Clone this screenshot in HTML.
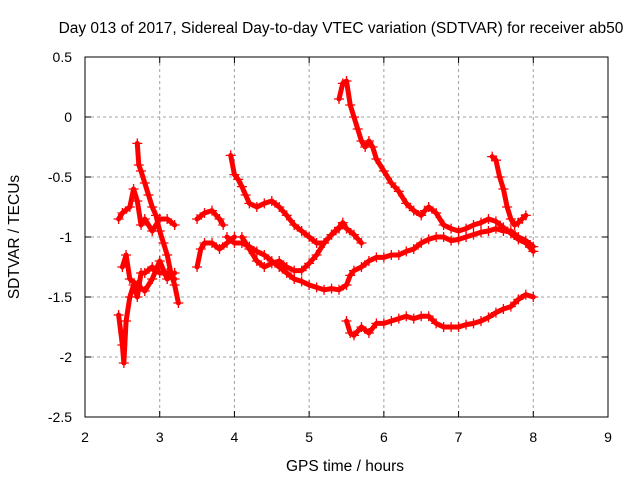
<!DOCTYPE html>
<html><head><meta charset="utf-8"><style>
body{margin:0;background:#fff;}
svg{display:block;font-family:"Liberation Sans",sans-serif;}
</style></head><body>
<svg id="chart" width="640" height="480" viewBox="0 0 640 480" xmlns="http://www.w3.org/2000/svg">
<text x="341" y="33" font-size="15.5" text-anchor="middle">Day 013 of 2017, Sidereal Day-to-day VTEC variation (SDTVAR) for receiver ab50</text>
<text transform="translate(19,237) rotate(-90)" font-size="15.5" text-anchor="middle">SDTVAR / TECUs</text>
<text x="345" y="471" font-size="15.5" text-anchor="middle">GPS time / hours</text>
<g id="grid"></g>
<g id="marks"></g>
<rect x="85" y="57" width="523" height="360" fill="none" stroke="#000" stroke-width="1"/>
</svg>
<script>
const xTicks=[2,3,4,5,6,7,8,9];
const yTicks=[0.5,0,-0.5,-1,-1.5,-2,-2.5];
const track1=[[5.4,0.15],[5.45,0.28],[5.5,0.3],[5.55,0.1],[5.6,0.0],[5.65,-0.1],[5.7,-0.2],[5.75,-0.25],[5.8,-0.2],[5.85,-0.25],[5.9,-0.35],[6.0,-0.45],[6.1,-0.55],[6.2,-0.62],[6.3,-0.72],[6.4,-0.78],[6.5,-0.82],[6.55,-0.78],[6.6,-0.75],[6.7,-0.8],[6.8,-0.9],[6.9,-0.93],[7.0,-0.95],[7.1,-0.93],[7.2,-0.9],[7.3,-0.88],[7.4,-0.85],[7.5,-0.87],[7.6,-0.92],[7.7,-0.97],[7.8,-1.02],[7.9,-1.05],[8.0,-1.12]];
const track2=[[7.45,-0.33],[7.5,-0.36],[7.55,-0.5],[7.6,-0.6],[7.65,-0.75],[7.7,-0.85],[7.75,-0.9],[7.8,-0.88],[7.85,-0.85],[7.9,-0.82]];
const track3=[[5.5,-1.7],[5.55,-1.8],[5.6,-1.82],[5.7,-1.75],[5.8,-1.8],[5.9,-1.72],[6.0,-1.72],[6.1,-1.7],[6.2,-1.68],[6.3,-1.66],[6.4,-1.68],[6.5,-1.66],[6.6,-1.66],[6.7,-1.72],[6.8,-1.75],[6.9,-1.75],[7.0,-1.75],[7.1,-1.73],[7.2,-1.72],[7.3,-1.7],[7.4,-1.67],[7.5,-1.63],[7.6,-1.6],[7.7,-1.58],[7.8,-1.52],[7.9,-1.48],[8.0,-1.5]];
const track4=[[3.9,-1.0],[4.0,-1.05],[4.1,-1.05],[4.2,-1.08],[4.3,-1.12],[4.4,-1.15],[4.5,-1.2],[4.6,-1.25],[4.7,-1.3],[4.8,-1.35],[4.9,-1.37],[5.0,-1.4],[5.1,-1.42],[5.2,-1.44],[5.3,-1.43],[5.4,-1.44],[5.5,-1.4],[5.55,-1.32],[5.6,-1.28],[5.7,-1.25],[5.8,-1.2],[5.9,-1.17],[6.0,-1.17],[6.1,-1.15],[6.2,-1.15],[6.3,-1.12],[6.4,-1.1],[6.5,-1.05],[6.6,-1.02],[6.7,-1.0],[6.8,-1.0],[6.9,-1.03],[7.0,-1.02],[7.1,-1.0],[7.2,-0.98],[7.3,-0.96],[7.4,-0.95],[7.5,-0.93],[7.6,-0.95],[7.7,-0.95],[7.8,-1.0],[7.9,-1.03],[8.0,-1.08]];
const track5=[[3.95,-0.32],[4.0,-0.48],[4.05,-0.52],[4.1,-0.58],[4.15,-0.65],[4.2,-0.72],[4.3,-0.75],[4.4,-0.72],[4.5,-0.7],[4.6,-0.75],[4.7,-0.82],[4.8,-0.9],[4.9,-0.95],[5.0,-1.0],[5.1,-1.05],[5.2,-1.05],[5.3,-0.98],[5.4,-0.92],[5.45,-0.88],[5.5,-0.93],[5.6,-0.98],[5.7,-1.05]];
const track6=[[4.1,-1.0],[4.2,-1.1],[4.3,-1.2],[4.4,-1.25],[4.5,-1.22],[4.6,-1.2],[4.7,-1.25],[4.8,-1.28],[4.9,-1.28],[5.0,-1.22],[5.1,-1.15],[5.2,-1.05],[5.3,-0.98],[5.4,-0.93]];
const track7=[[3.5,-1.25],[3.55,-1.1],[3.6,-1.05],[3.7,-1.05],[3.8,-1.1],[3.9,-1.05],[4.0,-1.0]];
const track8=[[3.5,-0.85],[3.6,-0.8],[3.7,-0.78],[3.8,-0.85],[3.85,-0.9]];
const track9=[[2.45,-1.65],[2.5,-1.9],[2.52,-2.05],[2.55,-1.7],[2.6,-1.5],[2.65,-1.4],[2.7,-1.5],[2.75,-1.3],[2.8,-1.3],[2.9,-1.25],[3.0,-1.3],[3.1,-1.3],[3.2,-1.35]];
const track10=[[2.45,-0.85],[2.5,-0.8],[2.6,-0.75],[2.65,-0.6],[2.7,-0.7],[2.75,-0.9],[2.8,-0.85],[2.9,-0.95],[3.0,-0.85],[3.1,-0.85],[3.2,-0.9]];
const track11=[[2.7,-0.22],[2.72,-0.4],[2.75,-0.45],[2.8,-0.55],[2.85,-0.65],[2.9,-0.75],[2.95,-0.82],[3.0,-0.95],[3.05,-1.05],[3.1,-1.15],[3.15,-1.3],[3.2,-1.4],[3.25,-1.55]];
const track12=[[2.5,-1.25],[2.55,-1.15],[2.6,-1.35],[2.7,-1.4],[2.8,-1.45],[2.9,-1.35],[3.0,-1.2],[3.1,-1.35],[3.2,-1.3]];
const tracks=[track1,track2,track3,track4,track5,track6,track7,track8,track9,track10,track11,track12];
const NS='http://www.w3.org/2000/svg';
const X=h=>85+(h-2)*(523/7);
const Y=v=>117-v*120;
const grid=document.getElementById('grid');
const marks=document.getElementById('marks');
function mk(tag,attrs,parent){const e=document.createElementNS(NS,tag);for(const k in attrs)e.setAttribute(k,attrs[k]);parent.appendChild(e);return e;}
xTicks.forEach(t=>{
  const x=X(t);
  if(t>2&&t<9){const g=mk('line',{x1:x,x2:x,y1:57,y2:417,stroke:'#a0a0a0','stroke-dasharray':'3,3'},grid);
  
  }
  mk('line',{x1:x,x2:x,y1:417,y2:411,stroke:'#000'},grid);
  mk('line',{x1:x,x2:x,y1:57,y2:63,stroke:'#000'},grid);
  const l=mk('text',{x:x,y:442,'font-size':14,'text-anchor':'middle'},grid);
  l.textContent=t;
  
  
});
yTicks.forEach(t=>{
  const y=Y(t);
  if(t<0.5&&t>-2.5){const g=mk('line',{x1:85,x2:608,y1:y,y2:y,stroke:'#a0a0a0','stroke-dasharray':'3,3'},grid);
  
  }
  mk('line',{x1:85,x2:91,y1:y,y2:y,stroke:'#000'},grid);
  mk('line',{x1:608,x2:602,y1:y,y2:y,stroke:'#000'},grid);
  const l=mk('text',{x:72,y:y+5,'font-size':14,'text-anchor':'end'},grid);
  l.textContent=t;
  
  
});
tracks.forEach((tr,i)=>{
  const pl=mk('polyline',{points:tr.map(p=>X(p[0])+','+Y(p[1])).join(' '),fill:'none',stroke:'#f00','stroke-width':5,'stroke-linejoin':'round','stroke-linecap':'round'},marks);
  
  
  tr.forEach(p=>{
    const x=X(p[0]),y=Y(p[1]);
    const m=mk('path',{d:`M${x-5},${y}h10M${x},${y-5}v10`,stroke:'#f00','stroke-width':1.3},marks);
    
    
  });
});
</script>
</body></html>
